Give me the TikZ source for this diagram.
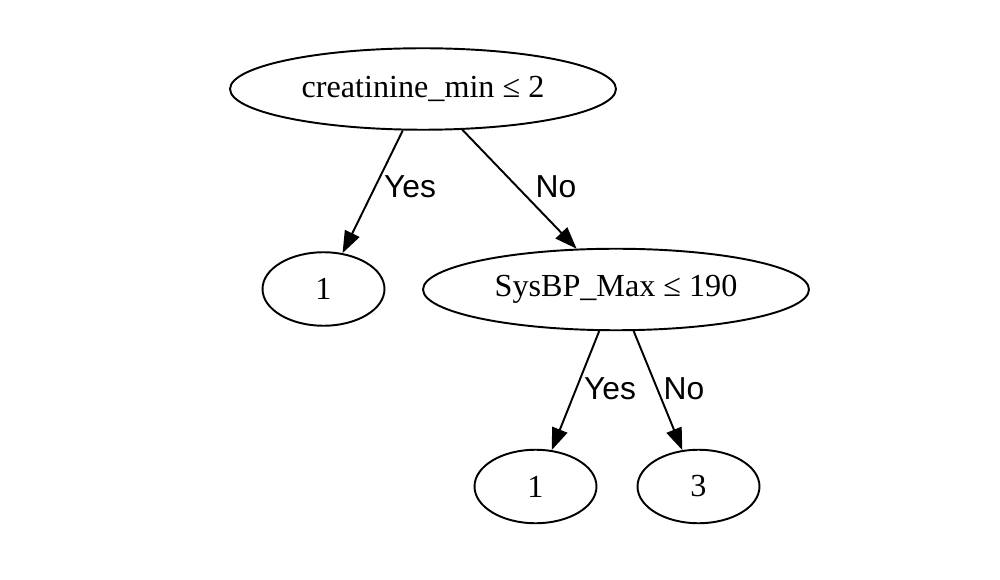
\documentclass[tikz,border=0pt]{standalone}
\usepackage{fontspec}
\setmainfont{Liberation Serif}
\setsansfont{Liberation Sans}
\usepackage{tikz}
\usetikzlibrary{shapes.geometric}
\usetikzlibrary{arrows.meta}

\begin{document}
\begin{tikzpicture}[x=0.02cm, y=-0.02cm]
    % Style definitions
    \tikzset{
        split/.style={draw, ellipse, line width=1.1pt, inner sep=0pt, minimum width=7.72cm, minimum height=1.63cm, font=\fontsize{18.3}{21}\selectfont},
        leaf/.style={split, minimum width=2.44cm, minimum height=1.47cm},
        branch/.style={-{Triangle[length=0.44cm, width=0.32cm]}, line width=1.1pt},
        answer/.style={inner sep=0pt, font=\sffamily\fontsize{18.1}{21}\selectfont}
    }
    \useasboundingbox (0, 0) rectangle (1000, 580);

    % ==========================================
    % TREE NODES
    % ==========================================
    \node[split] (creat) at (423, 89) {creatinine\_min ≤ 2};
    \node[leaf] (leafA) at (323.5, 289) {1};
    \node[split] (sysbp) at (616, 289.5) {SysBP\_Max ≤ 190};
    \node[leaf] (leafB) at (535.5, 486.5) {1};
    \node[leaf] (leafC) at (698.5, 486.5) {3};

    % ==========================================
    % BRANCHES (Yes to the left, No to the right)
    % ==========================================
    \draw[branch] (creat.244) -- (leafA.62);
    \draw[branch] (creat.314) -- (sysbp.134);
    \draw[branch] (sysbp.248) -- (leafB.66);
    \draw[branch] (sysbp.293) -- (leafC.114);

    % Branch labels
    \node[answer] (yesA) at (410, 186.5) {Yes};
    \node[answer] (noA) at (556, 186.5) {No};
    \node[answer] (yesB) at (610, 389) {Yes};
    \node[answer] (noB) at (684, 389) {No};
\end{tikzpicture}
\end{document}
